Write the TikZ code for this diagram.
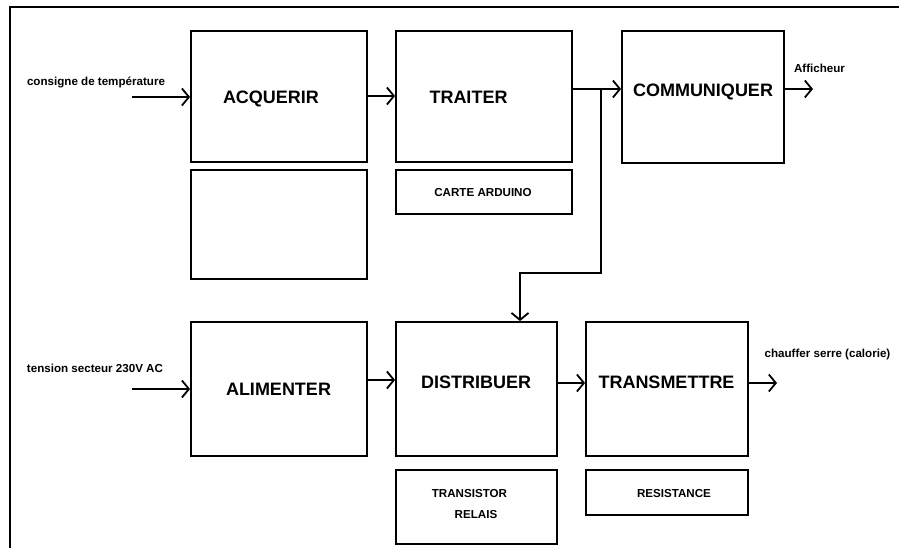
\documentclass[tikz,border=0pt]{standalone}
\usepackage{fontspec}
\setmainfont{Liberation Sans}
\usetikzlibrary{arrows.meta}
\tikzset{
  box/.style={draw, line width=1.8pt, rectangle, inner sep=0pt},
  big/.style={font=\bfseries\fontsize{18}{20}\selectfont, anchor=base, inner sep=0pt},
  small/.style={font=\bfseries\fontsize{11.6}{13}\selectfont, anchor=base, inner sep=0pt},
  link/.style={line width=1.8pt},
  arr/.style={line width=1.8pt, -{Straight Barb[length=7pt,width=17pt,line width=1.8pt]}}
}
\begin{document}
\begin{tikzpicture}[x=1pt,y=-1pt]
\useasboundingbox (0,0) rectangle (899,548);
\fill[white] (0,0) rectangle (899,548);
% frame
\draw[line width=1.8pt] (10,548) -- (10,7) -- (899,7);
% boxes (top row)
\node[box, minimum width=176pt, minimum height=131pt] (acq) at (279,96.5) {};
\node[box, minimum width=176pt, minimum height=109pt] (acqsub) at (279,224.5) {};
\node[box, minimum width=176pt, minimum height=131pt] (trait) at (484,96.5) {};
\node[box, minimum width=176pt, minimum height=44pt] (carte) at (484,192) {};
\node[box, minimum width=162pt, minimum height=132pt] (comm) at (703,97) {};
% boxes (bottom row)
\node[box, minimum width=176pt, minimum height=134pt] (alim) at (279,389) {};
\node[box, minimum width=161pt, minimum height=134pt] (dist) at (476.5,389) {};
\node[box, minimum width=162pt, minimum height=134pt] (trans) at (667,389) {};
\node[box, minimum width=161pt, minimum height=74pt] (tr) at (476.5,507) {};
\node[box, minimum width=162pt, minimum height=45pt] (res) at (667,492.5) {};
% labels
\node[big] (lacq) at (271,103.4) {ACQUERIR};
\node[big] (ltrait) at (468.5,103.4) {TRAITER};
\node[big] (lcomm) at (703,96.4) {COMMUNIQUER};
\node[big] (lalim) at (278.5,395.4) {ALIMENTER};
\node[big] (ldist) at (476,388.4) {DISTRIBUER};
\node[big] (ltrans) at (666.5,388.4) {TRANSMETTRE};
\node[small] (lcarte) at (483,196.2) {CARTE ARDUINO};
\node[small] (ltr1) at (469.5,497.2) {TRANSISTOR};
\node[small] (ltr2) at (476,518.2) {RELAIS};
\node[small] (lres) at (674,497.2) {RESISTANCE};
\node[small] (lcons) at (96,86) {consigne de température};
\node[small] (ltens) at (95,372.2) {tension secteur 230V AC};
\node[small] (lchauf) at (827.5,357) {chauffer serre (calorie)};
\node[small] (laff) at (819.5,72.2) {Afficheur};
% free ends
\coordinate (incons) at (132,97);
\coordinate (intens) at (132,389);
\coordinate (outaff) at (813,89);
\coordinate (outch) at (777,383);
\coordinate (j) at (601,89);
\coordinate (k) at (520,273);
% connectors
\draw[arr] (incons) -- (acq.west |- incons);
\draw[arr] (acq.east |- 0,96) -- (trait.west |- 0,96);
\draw[link] (trait.east |- j) -- (j);
\draw[arr] (j) -- (comm.west |- j);
\draw[arr] (comm.east |- outaff) -- (outaff);
\draw[arr] (j) -- (j |- k) -- (k) -- (k |- dist.north);
\draw[arr] (intens) -- (alim.west |- intens);
\draw[arr] (alim.east |- 0,380) -- (dist.west |- 0,380);
\draw[arr] (dist.east |- outch) -- (trans.west |- outch);
\draw[arr] (trans.east |- outch) -- (outch);
\end{tikzpicture}
\end{document}
